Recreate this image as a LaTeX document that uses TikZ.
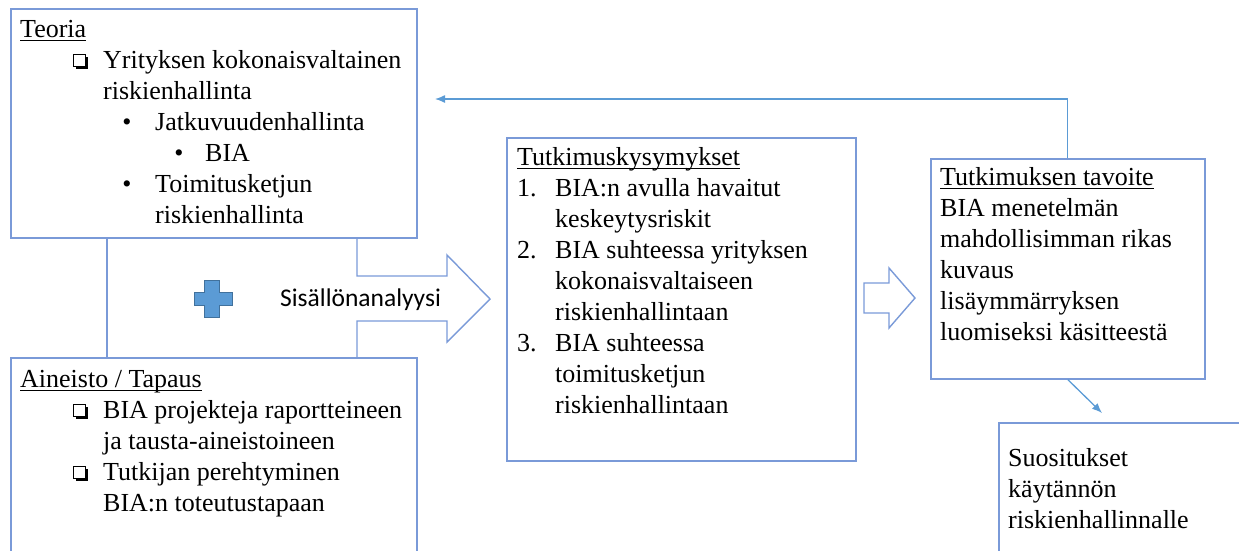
\documentclass[tikz,border=0pt]{standalone}
\usepackage{fontspec}
\usetikzlibrary{arrows.meta}
\setmainfont{Liberation Serif}
\newfontfamily\serfont{Liberation Serif}
\newfontfamily\calfont{Carlito}
\definecolor{boxblue}{RGB}{122,154,216}
\definecolor{lineblue}{RGB}{91,155,213}
\definecolor{plusfill}{RGB}{91,155,213}
\definecolor{plusdraw}{RGB}{65,113,156}
\begin{document}
\begin{tikzpicture}[x=1pt,y=-1pt,
  box/.style={draw=boxblue,line width=1.6pt,anchor=north west,inner sep=0pt,fill=white},
  txt/.style={anchor=base west,inner sep=0pt,font=\serfont\fontsize{26}{31}\selectfont},
  bul/.style={anchor=base,inner sep=0pt,font=\serfont\fontsize{26}{31}\selectfont},
  sans/.style={anchor=base west,inner sep=0pt,font=\calfont\fontsize{25.5}{31}\selectfont},
  conn/.style={draw=lineblue,line width=1.3pt},
  blockarrow/.style={draw=boxblue,line width=1.4pt},
  uline/.style={line width=1pt},
  sqb/.pic={
    \draw[line width=1.2pt] (0.6,-13.4) rectangle (12.6,-1.6);
    \fill (2.5,-2.2) rectangle (15,0.6);
    \fill (12,-11.5) rectangle (15,0.6);
  }]
\path[use as bounding box,clip] (0,0) rectangle (1239,550);

% boxes
\node[box,minimum width=406pt,minimum height=229pt] (teo) at (10,8) {};
\node[box,minimum width=406pt,minimum height=250pt] (ain) at (10,357) {};
\node[box,minimum width=349pt,minimum height=323pt] (tut) at (506,137) {};
\node[box,minimum width=274pt,minimum height=220pt] (tav) at (930,158) {};
\node[box,minimum width=300pt,minimum height=200pt] (suo) at (998,422) {};

% connectors between Teoria and Aineisto
\coordinate (vx) at (107,0);
\draw[blockarrow] (teo.south -| vx) -- (ain.north -| vx);
\coordinate (ba0) at (357,0);
\coordinate (ba1) at (357,276);
\coordinate (ba2) at (447,276);
\coordinate (ba3) at (447,255);
\coordinate (ba4) at (490,299);
\coordinate (ba5) at (447,342);
\coordinate (ba6) at (447,321);
\coordinate (ba7) at (357,321);
\draw[blockarrow,line join=miter] (teo.south -| ba0) -- (ba1) -- (ba2) -- (ba3) -- (ba4) -- (ba5) -- (ba6) -- (ba7) -- (ain.north -| ba0);

% plus sign
\draw[fill=plusfill,draw=plusdraw,line width=0.6pt]
  (204.5,280) -- (219,280) -- (219,292) -- (232,292) -- (232,305) -- (219,305)
  -- (219,317) -- (204.5,317) -- (204.5,305) -- (194,305) -- (194,292) -- (204.5,292) -- cycle;
\node[sans] (sis) at (280,306) {Sisällönanalyysi};

% small block arrow
\draw[blockarrow,line join=miter] (864,283) -- (889,283) -- (889,268) -- (915,298) -- (889,328) -- (889,313) -- (864,313) -- cycle;

% feedback arrow
\coordinate (fbc) at (0,99);
\coordinate (fbend) at (435,99);
\draw[conn,-{Latex[length=10pt,width=8pt]}] (tav.north) -- (tav.north |- fbc) -- (fbend);

% diagonal arrow
\coordinate (dgend) at (1102,413);
\draw[conn,-{Latex[length=10pt,width=8pt]}] (tav.south) -- (dgend);

% Teoria text
\node[txt] (teoT) at (20,37) {Teoria};
\draw[uline] ([yshift=-3.5pt]teoT.base west) -- ([yshift=-3.5pt]teoT.base east);
\pic at (73,68) {sqb};
\node[txt] (t1) at (103,68) {Yrityksen kokonaisvaltainen};
\node[txt] (t2) at (103,99) {riskienhallinta};
\node[bul] (b1) at (127,130) {•};
\node[txt] (t3) at (155,130) {Jatkuvuudenhallinta};
\node[bul] (b2) at (179,161) {•};
\node[txt] (t4) at (205,161) {BIA};
\node[bul] (b3) at (127,192) {•};
\node[txt] (t5) at (155,192) {Toimitusketjun};
\node[txt] (t6) at (155,223) {riskienhallinta};

% Aineisto text
\node[txt] (ainT) at (20,387) {Aineisto / Tapaus};
\draw[uline] ([yshift=-3.5pt]ainT.base west) -- ([yshift=-3.5pt]ainT.base east);
\pic at (73,418) {sqb};
\node[txt] (a1) at (103,418) {BIA projekteja raportteineen};
\node[txt] (a2) at (103,449) {ja tausta-aineistoineen};
\pic at (73,480) {sqb};
\node[txt] (a3) at (103,480) {Tutkijan perehtyminen};
\node[txt] (a4) at (103,511) {BIA:n toteutustapaan};

% Tutkimuskysymykset text
\node[txt] (tutT) at (517,165) {Tutkimuskysymykset};
\draw[uline] ([yshift=-3.5pt]tutT.base west) -- ([yshift=-3.5pt]tutT.base east);
\node[txt] (n1) at (517,196) {1.};
\node[txt] (q1) at (555,196) {BIA:n avulla havaitut};
\node[txt] (q2) at (555,227) {keskeytysriskit};
\node[txt] (n2) at (517,258) {2.};
\node[txt] (q3) at (555,258) {BIA suhteessa yrityksen};
\node[txt] (q4) at (555,289) {kokonaisvaltaiseen};
\node[txt] (q5) at (555,320) {riskienhallintaan};
\node[txt] (n3) at (517,351) {3.};
\node[txt] (q6) at (555,351) {BIA suhteessa};
\node[txt] (q7) at (555,382) {toimitusketjun};
\node[txt] (q8) at (555,413) {riskienhallintaan};

% Tavoite text
\node[txt] (tavT) at (940,185) {Tutkimuksen tavoite};
\draw[uline] ([yshift=-3.5pt]tavT.base west) -- ([yshift=-3.5pt]tavT.base east);
\node[txt] (v1) at (940,216) {BIA menetelmän};
\node[txt] (v2) at (940,247) {mahdollisimman rikas};
\node[txt] (v3) at (940,278) {kuvaus};
\node[txt] (v4) at (940,309) {lisäymmärryksen};
\node[txt] (v5) at (940,340) {luomiseksi käsitteestä};

% Suositukset text
\node[txt] (s1) at (1008,466) {Suositukset};
\node[txt] (s2) at (1008,497) {käytännön};
\node[txt] (s3) at (1008,528) {riskienhallinnalle};
\end{tikzpicture}
\end{document}
